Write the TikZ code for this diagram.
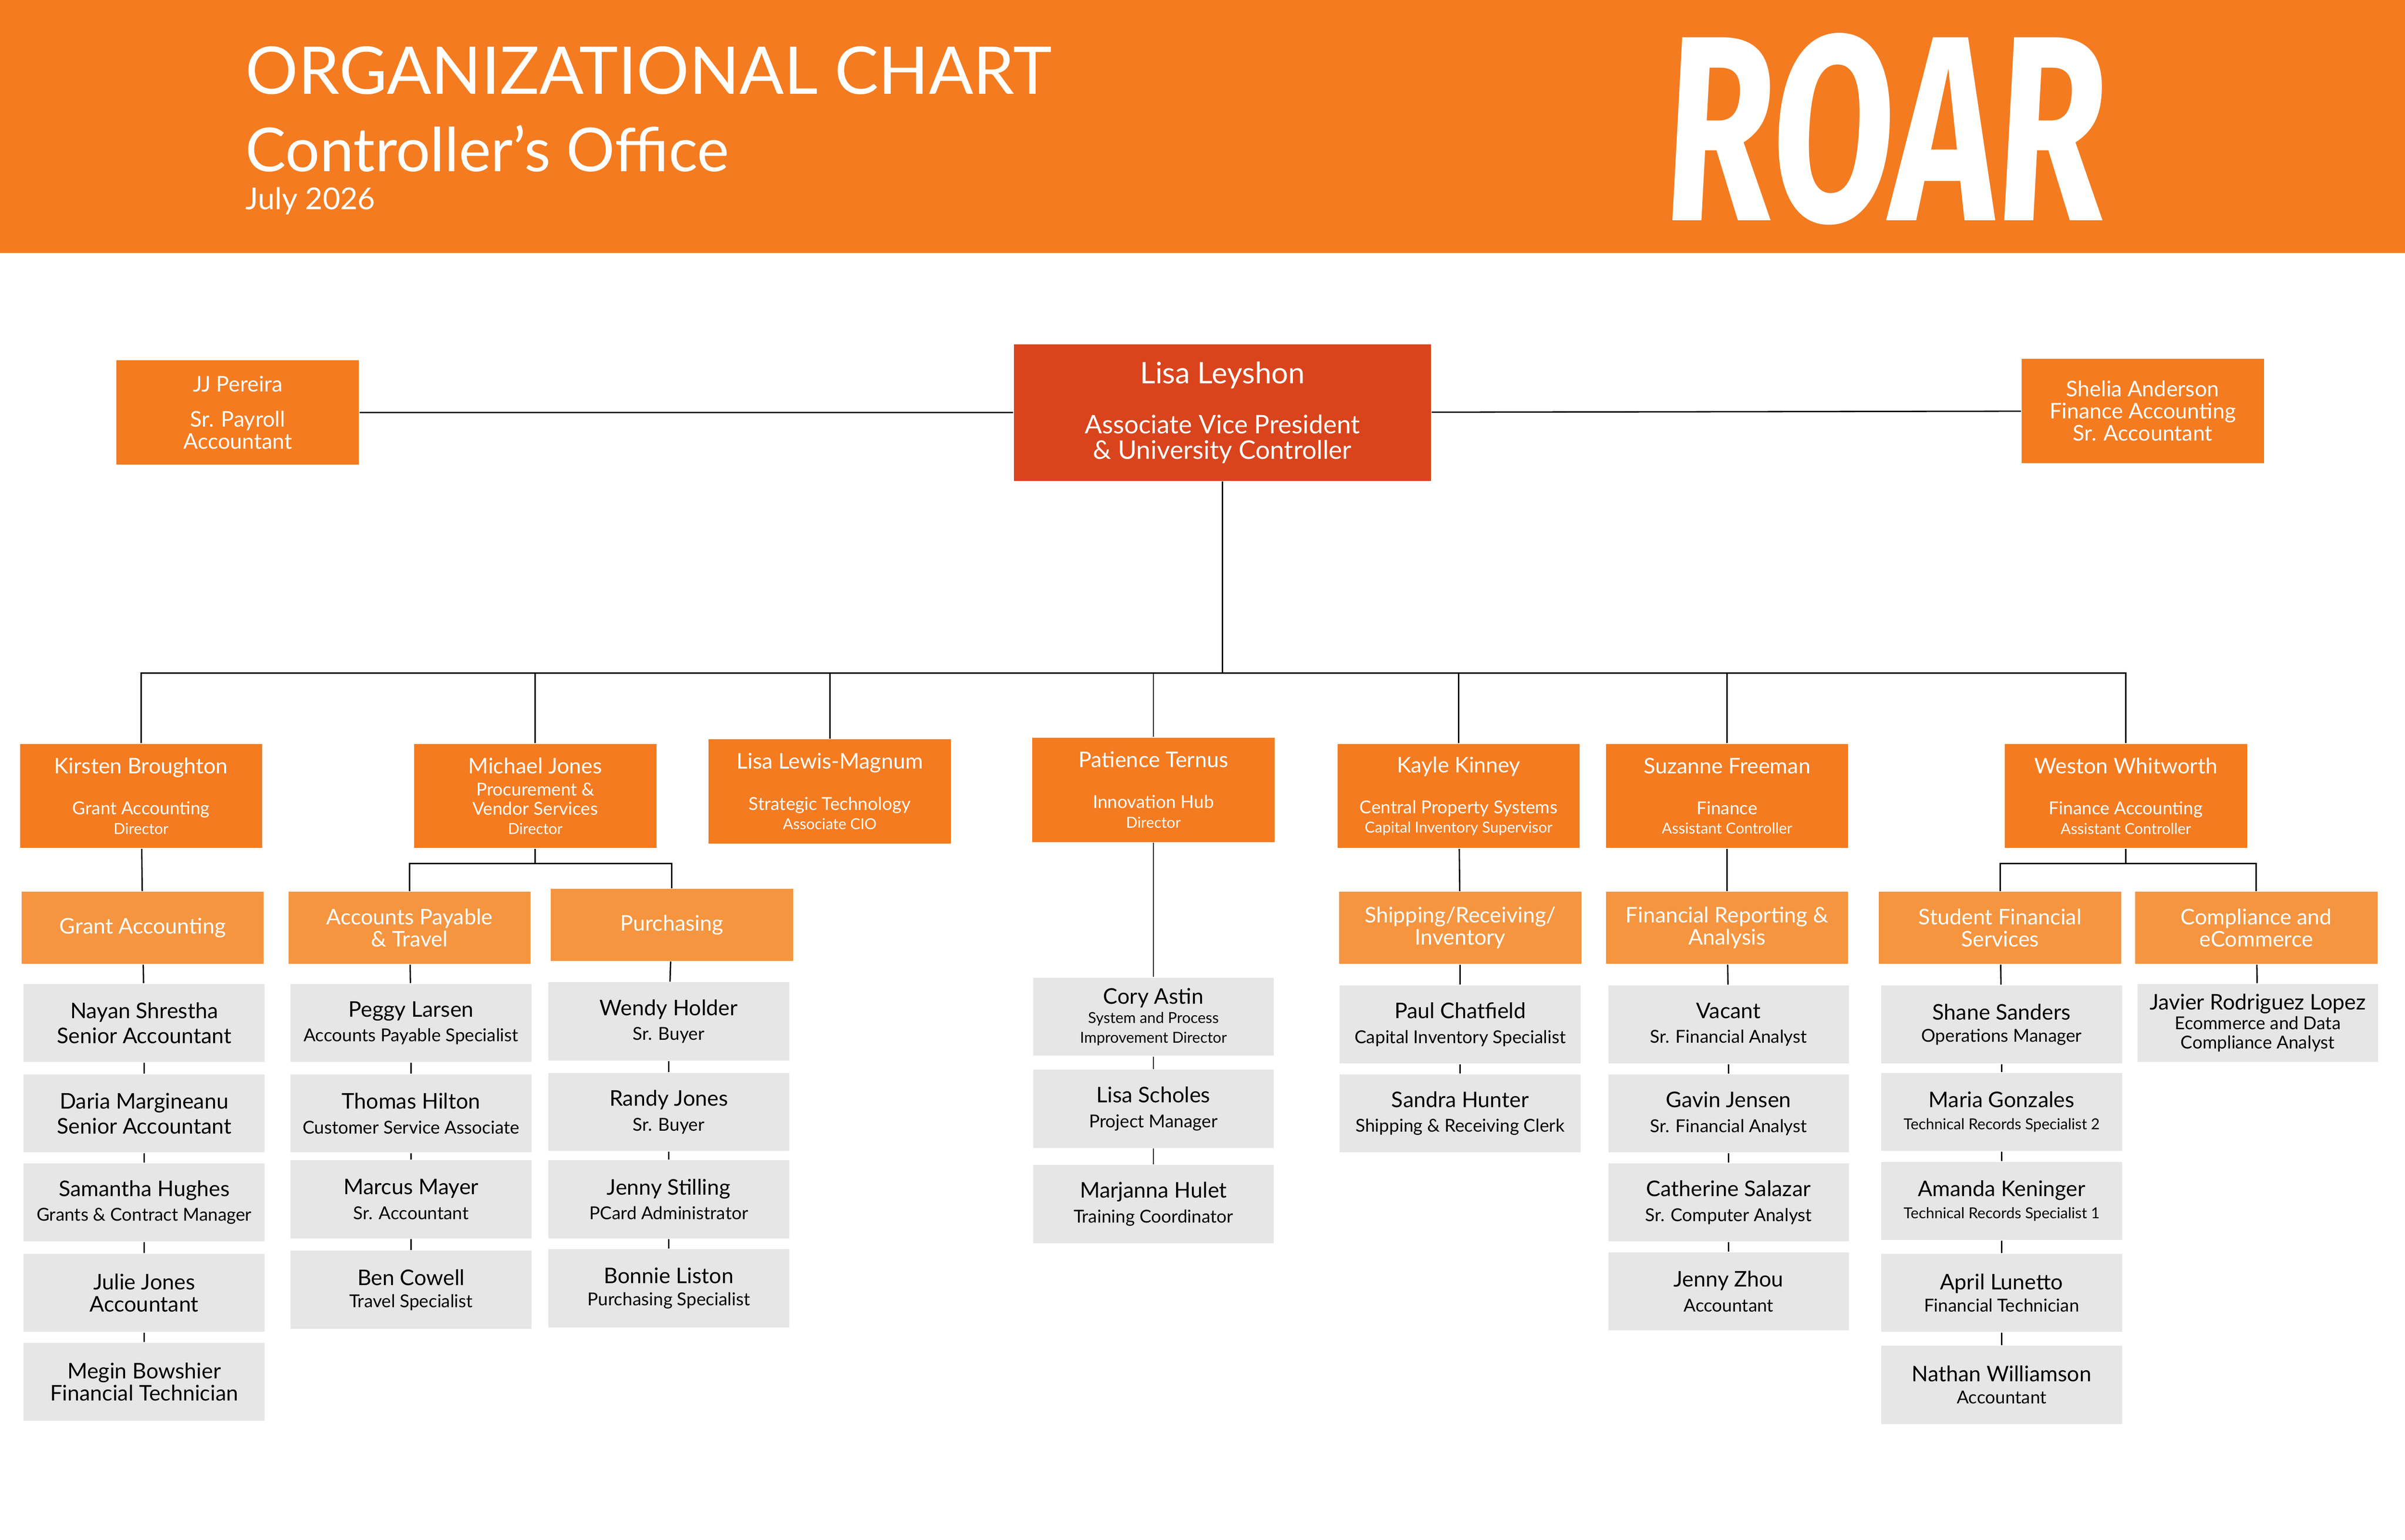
\documentclass[tikz,border=0pt]{standalone}
\usepackage{fontspec}
\setmainfont{Lato}
\newfontfamily\roarfont{Fira Sans}
\usetikzlibrary{positioning}
\definecolor{hdr}{HTML}{F47B20}
\definecolor{boss}{HTML}{D9441C}
\definecolor{lite}{HTML}{F59540}
\definecolor{pale}{HTML}{E6E6E7}
\newcommand\nm{\fontsize{8}{8}\selectfont}
\newcommand\ttl{\fontsize{6.6}{7}\selectfont}
\newcommand\tny{\fontsize{5.6}{6}\selectfont}
\begin{document}
\begin{tikzpicture}[%
    x=0.02cm, y=-0.02cm,
    line width=0.5pt,
    every node/.style={align=center, inner sep=1pt, font=\fontsize{8}{8.2}\selectfont},
    dir/.style={fill=hdr, text=white, minimum width=3.16cm, minimum height=1.36cm},
    sub/.style={fill=lite, text=white, minimum width=3.16cm, minimum height=0.94cm},
    emp/.style={fill=pale, text=black, minimum width=3.14cm, minimum height=1.02cm}
  ]
    \useasboundingbox (0,0) rectangle (1568,1004);
    \fill[hdr] (0,0) rectangle (1568,165);
    \node[anchor=west, text=white, font=\fontsize{24.4}{26}\selectfont] (t1) at (158,46) {ORGANIZATIONAL CHART};
    \node[anchor=west, text=white, font=\fontsize{22.5}{24}\selectfont] (t2) at (158,97) {Controller’s Office};
    \node[anchor=west, text=white, font=\fontsize{11.2}{12}\selectfont] (t3) at (158,131) {July 2026};
    \node[text=white, font=\roarfont\bfseries\fontsize{98}{100}\selectfont, xscale=0.67, xslant=0.08] (roar) at (1230,84) {ROAR};

    % top row
    \node[fill=boss, text=white, minimum width=5.44cm, minimum height=1.78cm, font=\fontsize{9.5}{9.5}\selectfont] (lisa) at (797,269)
      {{\fontsize{11}{12}\selectfont Lisa Leyshon}\\[9pt]Associate Vice President\\\& University Controller};
    \node[dir] (jj) at (155,269) {JJ Pereira\\[5pt]Sr. Payroll\\Accountant};
    \node[dir] (shelia) at (1397,268) {Shelia Anderson\\Finance Accounting\\Sr. Accountant};
    \draw (jj) -- (lisa) -- (shelia);
    \coordinate (bus) at (797,439);
    \draw (lisa) -- (bus);

    % directors
    \node[dir] (kirsten) at (92,519) {Kirsten Broughton\\[7pt]\ttl Grant Accounting\\[-1pt]\tny Director};
    \node[dir] (michael) at (349,519) {Michael Jones\\\ttl Procurement \&\\[-1pt]\ttl Vendor Services\\[-1pt]\tny Director};
    \node[dir] (lewis) at (541,516) {Lisa Lewis-Magnum\\[7pt]\ttl Strategic Technology\\[-1pt]\tny Associate CIO};
    \node[dir] (patience) at (752,515) {Patience Ternus\\[7pt]\ttl Innovation Hub\\[-1pt]\tny Director};
    \node[dir] (kayle) at (951,519) {Kayle Kinney\\[7pt]\ttl Central Property Systems\\[-1pt]\tny Capital Inventory Supervisor};
    \node[dir] (suzanne) at (1126,519) {Suzanne Freeman\\[7pt]\ttl Finance\\[-1pt]\tny Assistant Controller};
    \node[dir] (weston) at (1386,519) {Weston Whitworth\\[7pt]\ttl Finance Accounting\\[-1pt]\tny Assistant Controller};
    \foreach \d in {kirsten,michael,lewis,patience,kayle,suzanne,weston}
      \draw (\d.north) |- (bus);

    % units
    \node[sub] (ga) at (93,605) {Grant Accounting};
    \node[sub] (apt) at (267,605) {Accounts Payable\\\& Travel};
    \node[sub] (pur) at (438,603) {Purchasing};
    \node[sub] (ship) at (952,605) {Shipping/Receiving/\\Inventory};
    \node[sub] (fra) at (1126,605) {Financial Reporting \&\\Analysis};
    \node[sub] (sfs) at (1304,605) {Student Financial\\Services};
    \node[sub] (comp) at (1471,605) {Compliance and\\eCommerce};
    \coordinate (mj) at (349,563);
    \coordinate (ww) at (1386,563);
    \draw (michael) -- (mj);
    \draw (apt.north) |- (mj) -| (pur.north);
    \draw (weston) -- (ww);
    \draw (sfs.north) |- (ww) -| (comp.north);
    \draw (kirsten) -- (ga);
    \draw (kayle) -- (ship);
    \draw (suzanne) -- (fra);

    % staff
    \node[emp] (g1) at (94,667) {Nayan Shrestha\\[1pt]Senior Accountant};
    \node[emp] (g2) at (94,726) {Daria Margineanu\\[1pt]Senior Accountant};
    \node[emp] (g3) at (94,784) {Samantha Hughes\\[1pt]\ttl Grants \& Contract Manager};
    \node[emp] (g4) at (94,843) {Julie Jones\\Accountant};
    \node[emp] (g5) at (94,901) {Megin Bowshier\\Financial Technician};
    \draw (ga) -- (g1) -- (g2) -- (g3) -- (g4) -- (g5);

    \node[emp] (a1) at (268,667) {Peggy Larsen\\[1pt]\ttl Accounts Payable Specialist};
    \node[emp] (a2) at (268,726) {Thomas Hilton\\[1pt]\ttl Customer Service Associate};
    \node[emp] (a3) at (268,782) {Marcus Mayer\\[1pt]\ttl Sr. Accountant};
    \node[emp] (a4) at (268,841) {Ben Cowell\\\ttl Travel Specialist};
    \draw (apt) -- (a1) -- (a2) -- (a3) -- (a4);

    \node[emp] (p1) at (436,666) {Wendy Holder\\[1pt]\ttl Sr. Buyer};
    \node[emp] (p2) at (436,725) {Randy Jones\\[1pt]\ttl Sr. Buyer};
    \node[emp] (p3) at (436,782) {Jenny Stilling\\[1pt]\ttl PCard Administrator};
    \node[emp] (p4) at (436,840) {Bonnie Liston\\\ttl Purchasing Specialist};
    \draw (pur) -- (p1) -- (p2) -- (p3) -- (p4);

    \node[emp] (i1) at (752,663) {Cory Astin\\[-1pt]\tny System and Process\\[-1pt]\tny Improvement Director};
    \node[emp] (i2) at (752,723) {Lisa Scholes\\[1pt]\ttl Project Manager};
    \node[emp] (i3) at (752,785) {Marjanna Hulet\\[1pt]\ttl Training Coordinator};
    \draw (patience) -- (i1) -- (i2) -- (i3);

    \node[emp] (s1) at (952,668) {Paul Chatfield\\[1pt]\ttl Capital Inventory Specialist};
    \node[emp] (s2) at (952,726) {Sandra Hunter\\[1pt]\ttl Shipping \& Receiving Clerk};
    \draw (ship) -- (s1) -- (s2);

    \node[emp] (f1) at (1127,668) {Vacant\\[1pt]\ttl Sr. Financial Analyst};
    \node[emp] (f2) at (1127,726) {Gavin Jensen\\[1pt]\ttl Sr. Financial Analyst};
    \node[emp] (f3) at (1127,784) {Catherine Salazar\\[1pt]\ttl Sr. Computer Analyst};
    \node[emp] (f4) at (1127,842) {Jenny Zhou\\[1pt]\ttl Accountant};
    \draw (fra) -- (f1) -- (f2) -- (f3) -- (f4);

    \node[emp] (u1) at (1305,668) {Shane Sanders\\\ttl Operations Manager};
    \node[emp] (u2) at (1305,725) {Maria Gonzales\\\tny Technical Records Specialist 2};
    \node[emp] (u3) at (1305,783) {Amanda Keninger\\\tny Technical Records Specialist 1};
    \node[emp] (u4) at (1305,843) {April Lunetto\\\ttl Financial Technician};
    \node[emp] (u5) at (1305,903) {Nathan Williamson\\\ttl Accountant};
    \draw (sfs) -- (u1) -- (u2) -- (u3) -- (u4) -- (u5);

    \node[emp] (c1) at (1472,667) {Javier Rodriguez Lopez\\[-1pt]\ttl Ecommerce and Data\\[-1pt]\ttl Compliance Analyst};
    \draw (comp) -- (c1);
  \end{tikzpicture}
\end{document}
